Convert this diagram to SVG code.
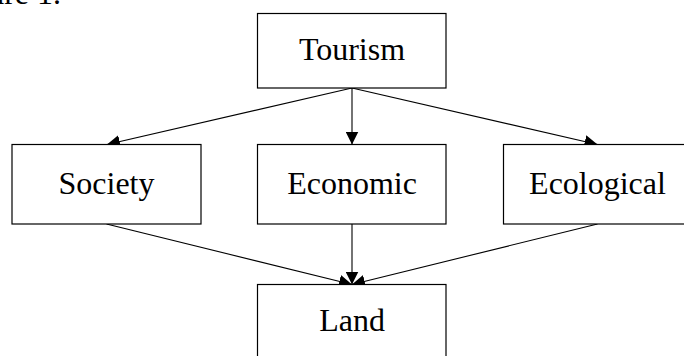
<svg xmlns="http://www.w3.org/2000/svg" width="684" height="356" viewBox="0 0 684 356">
  <style>
    .box { fill: #fff; stroke: #000; stroke-width: 1.2; }
    .label { font-family: "Liberation Serif", "Times New Roman", serif; font-size: 32px; fill: #000; text-anchor: middle; }
    .caption { font-family: "Liberation Serif", "Times New Roman", serif; font-size: 32px; fill: #000; text-anchor: end; }
    .edge { fill: none; stroke: #000; stroke-width: 1.1; marker-end: url(#arrow); }
  </style>
  <defs>
    <marker id="arrow" markerUnits="userSpaceOnUse" markerWidth="13" markerHeight="13" refX="13" refY="6.5" orient="auto">
      <path d="M0,0 L13,6.5 L0,13 z" fill="#000"/>
    </marker>
  </defs>
  <rect width="684" height="356" fill="#fff"/>

  <!-- caption line above the figure, mostly outside the frame -->
  <text class="caption" x="61" y="4">Figure 1.</text>

  <g id="connectors">
    <line class="edge" x1="352" y1="88" x2="107" y2="144.5"/>
    <line class="edge" x1="352" y1="88" x2="352" y2="144.5"/>
    <line class="edge" x1="352" y1="88" x2="597.5" y2="144.5"/>
    <line class="edge" x1="106.5" y1="224" x2="352" y2="284.5"/>
    <line class="edge" x1="352" y1="224" x2="352" y2="284.5"/>
    <line class="edge" x1="597.5" y1="224" x2="352" y2="284.5"/>
  </g>

  <g id="tourism">
    <rect class="box" x="257.5" y="13.5" width="188.5" height="74.5"/>
    <text class="label" x="352" y="59.5">Tourism</text>
  </g>
  <g id="society">
    <rect class="box" x="12" y="144.5" width="189" height="79.5"/>
    <text class="label" x="106.5" y="194">Society</text>
  </g>
  <g id="economic">
    <rect class="box" x="257.5" y="144.5" width="188.5" height="79.5"/>
    <text class="label" x="352" y="194">Economic</text>
  </g>
  <g id="ecological">
    <rect class="box" x="503.5" y="144.5" width="189" height="79.5"/>
    <text class="label" x="597.5" y="194">Ecological</text>
  </g>
  <g id="land">
    <rect class="box" x="257.5" y="284.5" width="188.5" height="80"/>
    <text class="label" x="352" y="331">Land</text>
  </g>
</svg>
